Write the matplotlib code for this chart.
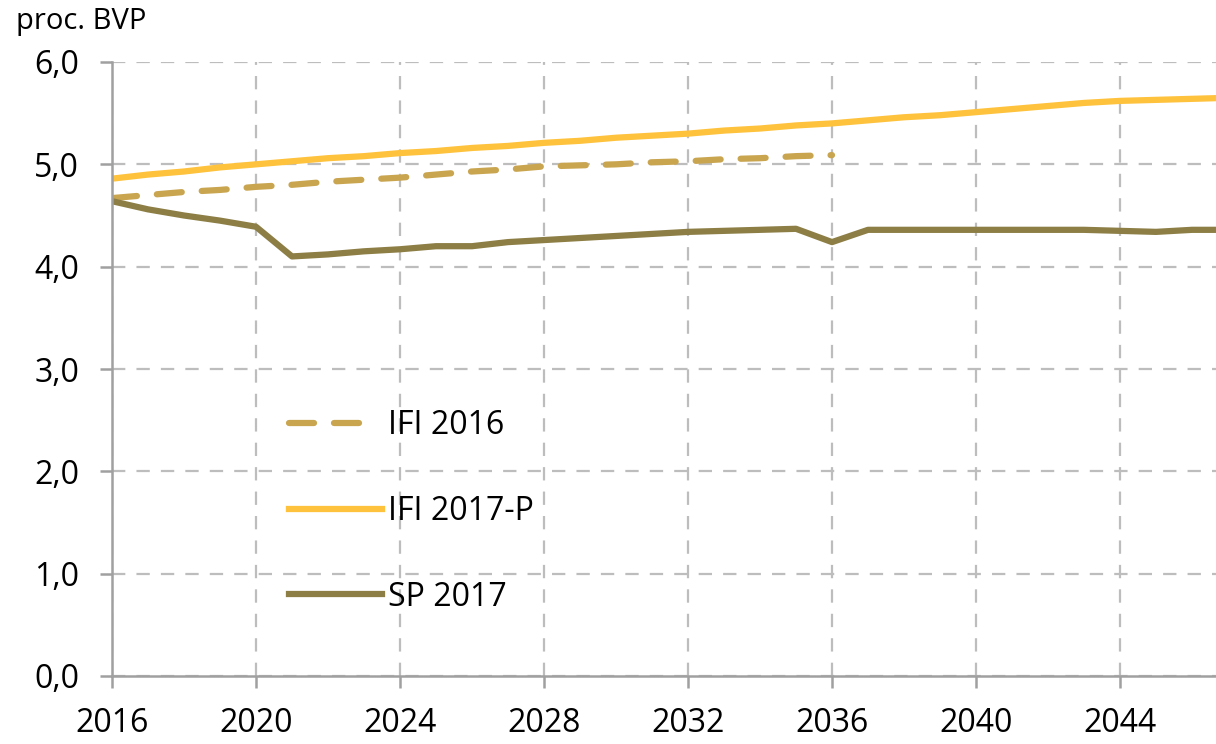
import numpy as np
import matplotlib.pyplot as plt

plt.rcParams['font.family'] = ['Open Sans', 'DejaVu Sans']

years_ifi16 = list(range(2016, 2037))
ifi_2016 = [4.67, 4.70, 4.73, 4.75, 4.78, 4.80, 4.83, 4.85, 4.87, 4.90,
            4.93, 4.95, 4.98, 4.99, 5.00, 5.02, 5.03, 5.05, 5.06, 5.08, 5.09]

years = list(range(2016, 2048))
ifi_2017p = [4.86, 4.90, 4.93, 4.97, 5.00, 5.03, 5.06, 5.08, 5.11, 5.13,
             5.16, 5.18, 5.21, 5.23, 5.26, 5.28, 5.30, 5.33, 5.35, 5.38,
             5.40, 5.43, 5.46, 5.48, 5.51, 5.54, 5.57, 5.60, 5.62, 5.63,
             5.64, 5.65]
sp_2017 = [4.64, 4.56, 4.50, 4.45, 4.39, 4.10, 4.12, 4.15, 4.17, 4.20,
           4.20, 4.24, 4.26, 4.28, 4.30, 4.32, 4.34, 4.35, 4.36, 4.37,
           4.24, 4.36, 4.36, 4.36, 4.36, 4.36, 4.36, 4.36, 4.35, 4.34,
           4.36, 4.36]

xticks = list(range(2016, 2048, 4))
yticks = [0, 1, 2, 3, 4, 5, 6]

fig = plt.figure(figsize=(12.16, 7.44), dpi=100)
ax = fig.add_axes([112/1216, 1-676/744, 1-112/1216, (676-62)/744])

ax.plot(years_ifi16, ifi_2016, color='#C9A550', lw=4.5, dashes=(4, 3.2),
        label='IFI 2016', dash_capstyle='round')
ax.plot(years, ifi_2017p, color='#FFC23C', lw=4.5, label='IFI 2017-P')
ax.plot(years, sp_2017, color='#8C7E45', lw=4.5, label='SP 2017')

ax.set_xlim(2016, 2016 + (1216-112)/36)
ax.set_ylim(0, 6)
ax.set_xticks(xticks)
ax.set_yticks(yticks)
ax.set_yticklabels([('%.1f' % v).replace('.', ',') for v in yticks])

ax.grid(True, color='#BDBDBD', linestyle=(0, (6, 5)), lw=1.6)
ax.set_axisbelow(True)
for s in ['top', 'right']:
    ax.spines[s].set_visible(False)
for s in ['left', 'bottom']:
    ax.spines[s].set_color('#A0A0A0')
    ax.spines[s].set_linewidth(1.8)
ax.tick_params(axis='both', labelsize=23, color='#A0A0A0', width=1.8,
               length=8.6)
ax.tick_params(axis='y', pad=15)
ax.tick_params(axis='x', pad=14)

leg = ax.legend(loc='upper left', bbox_to_anchor=(0.1345, 0.4815), frameon=False,
                fontsize=23, handlelength=2.9, labelspacing=1.65, handletextpad=0.2)
leg.get_lines()[0].set_dashes((4, 3.2, 4, 12))

fig.text(16/1216, 1-22/744, 'proc. BVP', fontsize=21, va='center', ha='left')

plt.savefig('out.png', dpi=100)
